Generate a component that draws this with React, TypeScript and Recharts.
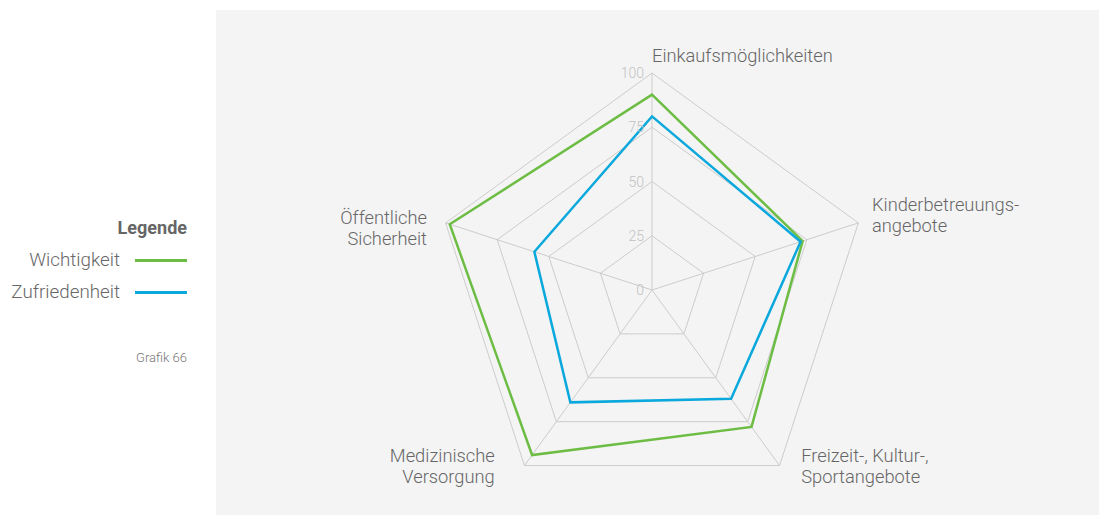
import React from 'react';
import { RadarChart, Radar, PolarGrid, PolarAngleAxis, PolarRadiusAxis } from 'recharts';

const categories = [
  'Einkaufsmöglichkeiten',
  'Kinderbetreuungs-|angebote',
  'Freizeit-, Kultur-,|Sportangebote',
  'Medizinische|Versorgung',
  'Öffentliche|Sicherheit',
];
const wichtigkeit = [90, 73, 78, 94, 98];
const zufriedenheit = [80, 72, 62, 64, 57];
const radiusTicks = [0, 25, 50, 75, 100];

const seriesNames = ['Wichtigkeit', 'Zufriedenheit'];
const seriesColors = ['#6dbd45', '#0aa8dc'];

const data = categories.map((c, i) => ({
  category: c,
  wichtigkeit: wichtigkeit[i],
  zufriedenheit: zufriedenheit[i],
}));

const FONT = 'Roboto, "Open Sans", sans-serif';

// label placement relative to the point recharts gives
const tickLayout = [
  { dx: 0, dy: -3, anchor: 'start' },
  { dx: 6, dy: -9, anchor: 'start' },
  { dx: 17, dy: -10, anchor: 'start' },
  { dx: -25, dy: -10, anchor: 'end' },
  { dx: -11, dy: 4, anchor: 'end' },
];

function AngleTick(props: any) {
  const { x, y, payload, index } = props;
  const lay = tickLayout[index] || { dx: 0, dy: 0, anchor: 'middle' };
  const lines = String(payload.value).split('|');
  return (
    <text
      x={x + lay.dx}
      y={y + lay.dy}
      textAnchor={lay.anchor}
      fill="#666"
      fontSize={18.3}
      fontWeight={300}
      fontFamily={FONT}
    >
      {lines.map((l, i) => (
        <tspan key={i} x={x + lay.dx} dy={i === 0 ? 0 : 20.5}>
          {l}
        </tspan>
      ))}
    </text>
  );
}

function RadiusTick(props: any) {
  const { x, y, payload } = props;
  return (
    <text x={x - 8} y={y + 5} textAnchor="end" fill="#c2c2c2" fontSize={14} fontWeight={300} fontFamily={FONT}>
      {payload.value}
    </text>
  );
}

export default function App() {
  return (
    <div style={{ position: 'absolute', left: 0, top: 0, width: 1099, height: 515, background: '#fff', fontFamily: FONT }}>
      <div style={{ position: 'absolute', left: 216, top: 10, width: 883, height: 505, background: '#f4f4f4' }}>
        <RadarChart width={883} height={505} data={data} cx={436} cy={280} outerRadius={217} startAngle={90} endAngle={-270}>
          <PolarGrid gridType="polygon" stroke="#cccccc" strokeWidth={1} />
          <PolarAngleAxis dataKey="category" tick={<AngleTick />} tickLine={false} axisLine={false} />
          <PolarRadiusAxis
            angle={90}
            domain={[0, 100]}
            ticks={radiusTicks as any}
            tickCount={5}
            orientation="left"
            axisLine={false}
            tickLine={false}
            tick={<RadiusTick />}
          />
          <Radar
            name={seriesNames[0]}
            dataKey="wichtigkeit"
            stroke={seriesColors[0]}
            strokeWidth={2.5}
            fill="none"
            fillOpacity={0}
            isAnimationActive={false}
          />
          <Radar
            name={seriesNames[1]}
            dataKey="zufriedenheit"
            stroke={seriesColors[1]}
            strokeWidth={2.5}
            fill="none"
            fillOpacity={0}
            isAnimationActive={false}
          />
        </RadarChart>
      </div>
      <div style={{ position: 'absolute', right: 1099 - 187, top: 217, textAlign: 'right', color: '#666', fontSize: 18, fontWeight: 700, whiteSpace: 'nowrap' }}>
        Legende
      </div>
      {seriesNames.map((n, i) => (
        <div key={n} style={{ position: 'absolute', right: 1099 - 187, top: 249 + i * 32, display: 'flex', alignItems: 'center', whiteSpace: 'nowrap', color: '#666', fontSize: 18.8, fontWeight: 300 }}>
          <span>{n}</span>
          <span style={{ display: 'inline-block', width: 52, height: 3, background: seriesColors[i], marginLeft: 15 }} />
        </div>
      ))}
      <div style={{ position: 'absolute', right: 1099 - 187, top: 350, color: '#777', fontSize: 13, fontWeight: 300, whiteSpace: 'nowrap' }}>
        Grafik 66
      </div>
    </div>
  );
}
